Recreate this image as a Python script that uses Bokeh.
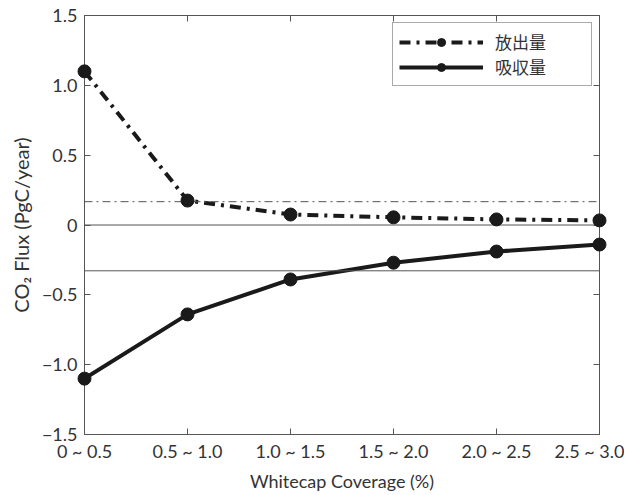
from bokeh.plotting import figure
from bokeh.models import (FixedTicker, LinearAxis, Range1d, Span, Legend, LegendItem, ColumnDataSource)
from bokeh.embed import file_html
from bokeh.resources import INLINE

categories = ["0 ~ 0.5", "0.5 ~ 1.0", "1.0 ~ 1.5", "1.5 ~ 2.0", "2.0 ~ 2.5", "2.5 ~ 3.0"]
emission = [1.10, 0.175, 0.075, 0.055, 0.04, 0.033]
absorption = [-1.10, -0.64, -0.39, -0.27, -0.19, -0.14]
emission_mean = 0.167
absorption_mean = -0.328
y_ticks = [-1.5, -1.0, -0.5, 0, 0.5, 1.0, 1.5]
y_tick_labels = ["−1.5", "−1.0", "−0.5", "0", "0.5", "1.0", "1.5"]

FONT = "Lato"
CJK = "Noto Sans CJK JP"
TXT = "#333333"
FRAME = "#555555"
INK = "#1a1a1a"

xs = list(range(len(categories)))
src = ColumnDataSource(dict(x=xs, em=emission, ab=absorption))

p = figure(width=624, height=495, output_backend="svg", toolbar_location=None,
           x_range=Range1d(0, len(categories) - 1), y_range=Range1d(-1.5, 1.5),
           min_border_left=84, min_border_right=25, min_border_top=15, min_border_bottom=61)
p.xgrid.visible = False
p.ygrid.visible = False
p.outline_line_color = FRAME
p.outline_line_width = 1
p.background_fill_color = "white"
p.border_fill_color = "white"

for ax in [p.xaxis[0], p.yaxis[0]]:
    ax.major_tick_in = 6
    ax.major_tick_out = 0
    ax.minor_tick_in = 0
    ax.minor_tick_out = 0
    ax.axis_line_color = FRAME
    ax.major_tick_line_color = FRAME
    ax.major_label_text_font = FONT
    ax.major_label_text_font_size = "18px"
    ax.major_label_text_color = TXT
    ax.major_label_text_line_height = 1.0
    ax.axis_label_text_font = FONT
    ax.axis_label_text_font_style = "normal"
    ax.axis_label_text_color = TXT
    ax.axis_label_text_line_height = 1.0

p.xaxis[0].ticker = FixedTicker(ticks=xs)
p.xaxis[0].major_label_overrides = {i: c for i, c in zip(xs, categories)}
p.xaxis[0].major_label_standoff = 5
p.xaxis[0].axis_label = "Whitecap Coverage (%)"
p.xaxis[0].axis_label_text_font_size = "18px"
p.xaxis[0].axis_label_standoff = 5

p.yaxis[0].ticker = FixedTicker(ticks=y_ticks)
p.yaxis[0].major_label_overrides = {t: l for t, l in zip(y_ticks, y_tick_labels)}
p.yaxis[0].major_label_standoff = 7
p.yaxis[0].axis_label = "CO₂ Flux (PgC/year)"
p.yaxis[0].axis_label_text_font_size = "20px"
p.yaxis[0].axis_label_standoff = 6

top = LinearAxis(ticker=FixedTicker(ticks=xs[1:-1]),
                 major_label_overrides={i: "" for i in xs},
                 major_tick_in=6, major_tick_out=0, minor_tick_in=0, minor_tick_out=0,
                 axis_line_color=FRAME, major_tick_line_color=FRAME, major_label_standoff=0)
right = LinearAxis(ticker=FixedTicker(ticks=y_ticks[1:-1]),
                   major_label_overrides={t: "" for t in y_ticks},
                   major_tick_in=6, major_tick_out=0, minor_tick_in=0, minor_tick_out=0,
                   axis_line_color=FRAME, major_tick_line_color=FRAME, major_label_standoff=0)
p.add_layout(top, "above")
p.add_layout(right, "right")

p.add_layout(Span(location=0, dimension="width", line_color=FRAME, line_width=1))
p.add_layout(Span(location=emission_mean, dimension="width", line_color=FRAME, line_width=1,
                  line_dash="8 4 2 4"))
p.add_layout(Span(location=absorption_mean, dimension="width", line_color=FRAME, line_width=1))

l1 = p.line("x", "em", source=src, line_color=INK, line_width=4, line_dash="11 6 3 6")
s1 = p.scatter("x", "em", source=src, size=13, fill_color=INK, line_color=INK, level="overlay")
l2 = p.line("x", "ab", source=src, line_color=INK, line_width=4)
s2 = p.scatter("x", "ab", source=src, size=13, fill_color=INK, line_color=INK, level="overlay")

legend = Legend(items=[LegendItem(label="放出量", renderers=[l1, s1]),
                       LegendItem(label="吸収量", renderers=[l2, s2])],
                location="top_right", margin=7, padding=6, spacing=0,
                glyph_width=84, glyph_height=20, label_standoff=12, label_width=90,
                label_height=20,
                label_text_font=CJK, label_text_font_size="17px", label_text_color=TXT,
                label_text_line_height=1.0,
                border_line_color=FRAME, border_line_width=1, background_fill_alpha=1)
p.add_layout(legend)

open("out.html", "w").write(file_html(p, INLINE))
